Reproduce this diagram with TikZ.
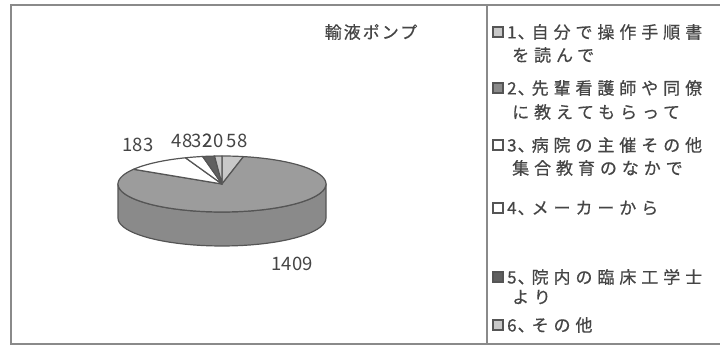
\documentclass[tikz,border=0pt]{standalone}
\usepackage{fontspec}
\newfontfamily\cjknum{Noto Sans CJK JP}
\newfontfamily\cjkleg[LetterSpace=29,FakeBold=0.6]{Noto Sans CJK JP}
\newfontfamily\cjktitle[LetterSpace=12,FakeBold=0.6]{Noto Sans CJK JP}
\definecolor{edge}{HTML}{555555}
\definecolor{topgray}{HTML}{9C9C9C}
\definecolor{sidegray}{HTML}{8A8A8A}
\definecolor{lightg}{HTML}{C8C8C8}
\definecolor{darkg}{HTML}{606060}
\definecolor{txt}{HTML}{454545}
\definecolor{framec}{HTML}{8A8A8A}
\newcommand{\tc}{\kern1pt、\kern-3pt}
\tikzset{
  frameline/.style={draw=framec, line width=1.8pt},
  slicebox/.style={draw=edge, line width=1.2pt, line join=round},
  numlabel/.style={inner sep=0pt, text=txt, font=\cjknum\fontsize{18.5}{20}\selectfont},
  legtext/.style={inner sep=0pt, anchor=west, text=txt, font=\cjkleg\fontsize{17}{19}\selectfont},
  titletext/.style={inner sep=0pt, text=txt, font=\cjktitle\fontsize{17}{19}\selectfont},
  legmark/.style={draw=edge, line width=1.3pt, minimum size=10pt, inner sep=0pt},
}
\begin{document}
\begin{tikzpicture}[x=1pt,y=-1pt]
\useasboundingbox (0,0) rectangle (720,347);
% frame
\draw[frameline] (721,5) -- (11,5) -- (11,344) -- (721,344);
\draw[frameline] (487,5) -- (487,344);
% title
\node[titletext] (title) at (371,32) {輸液ポンプ};
% pie side
\coordinate (C) at (222,184);
\filldraw[slicebox, fill=sidegray]
  plot[domain=90:270, samples=40] ({222+104*sin(\x)},{218-28*cos(\x)})
  -- plot[domain=270:90, samples=40] ({222+104*sin(\x)},{184-28*cos(\x)}) -- cycle;
% pie top slices
\filldraw[slicebox, fill=lightg] (C) -- plot[domain=0:11.93, samples=10] ({222+104*sin(\x)},{184-28*cos(\x)}) -- cycle;
\filldraw[slicebox, fill=topgray] (C) -- plot[domain=11.93:301.78, samples=80] ({222+104*sin(\x)},{184-28*cos(\x)}) -- cycle;
\filldraw[slicebox, fill=white] (C) -- plot[domain=301.78:339.43, samples=20] ({222+104*sin(\x)},{184-28*cos(\x)}) -- cycle;
\filldraw[slicebox, fill=white] (C) -- plot[domain=339.43:349.30, samples=8] ({222+104*sin(\x)},{184-28*cos(\x)}) -- cycle;
\filldraw[slicebox, fill=darkg] (C) -- plot[domain=349.30:355.89, samples=6] ({222+104*sin(\x)},{184-28*cos(\x)}) -- cycle;
\filldraw[slicebox, fill=lightg] (C) -- plot[domain=355.89:360, samples=5] ({222+104*sin(\x)},{184-28*cos(\x)}) -- cycle;
% data labels
\node[numlabel] (l183) at (138,145) {183};
\node[numlabel] (l48) at (182,141) {48};
\node[numlabel] (l32) at (202,141) {32};
\node[numlabel] (l20) at (213,141) {20};
\node[numlabel] (l58) at (237,141) {58};
\node[numlabel] (l1409) at (292,264) {1409};
% legend markers
\node[legmark, fill=lightg] (m1) at (498,32) {};
\node[legmark, fill=sidegray] (m2) at (498,88) {};
\node[legmark, fill=white] (m3) at (498,145) {};
\node[legmark, fill=white] (m4) at (498,208) {};
\node[legmark, fill=darkg] (m5) at (498,277) {};
\node[legmark, fill=lightg] (m6) at (498,325) {};
% legend texts
\node[legtext] (t1a) at (507,32) {1\tc 自分で操作手順書};
\node[legtext] (t1b) at (512,55) {を読んで};
\node[legtext] (t2a) at (507,88) {2\tc 先輩看護師や同僚};
\node[legtext] (t2b) at (512,112) {に教えてもらって};
\node[legtext] (t3a) at (507,145) {3\tc 病院の主催その他};
\node[legtext] (t3b) at (512,168) {集合教育のなかで};
\node[legtext] (t4a) at (507,208) {4\tc メーカーから};
\node[legtext] (t5a) at (507,277) {5\tc 院内の臨床工学士};
\node[legtext] (t5b) at (512,297) {より};
\node[legtext] (t6a) at (507,325) {6\tc その他};
\end{tikzpicture}
\end{document}
